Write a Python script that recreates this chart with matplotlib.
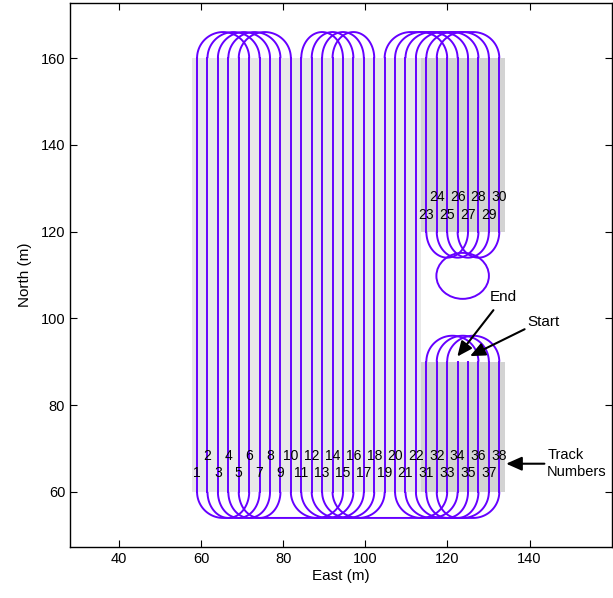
import numpy as np
import matplotlib
matplotlib.use('Agg')
import matplotlib.pyplot as plt
from matplotlib.patches import Rectangle, Ellipse

plt.rcParams['font.family'] = ['Liberation Sans', 'DejaVu Sans']

# ---------------- data ----------------
x_origin = 57.7          # west edge of the field (m)
swath = 2.54             # track spacing (m)
main_tracks = list(range(1, 23))
upper_tracks = list(range(23, 31))
lower_tracks = list(range(31, 39))
main_span = (60, 160)
upper_span = (120, 160)
lower_span = (60, 90)

# headland turns: (track, track)
turns_y160 = [(1, 6), (2, 7), (3, 8), (4, 9), (5, 10),
              (15, 11), (16, 12), (17, 13), (18, 14),
              (19, 29), (25, 20), (22, 27), (23, 28), (24, 30), (26, 21)]
turns_y60 = [(6, 2), (7, 3), (8, 4), (9, 5), (10, 15),
             (11, 16), (12, 17), (13, 18), (14, 19),
             (35, 31), (36, 32), (20, 33), (38, 22), (21, 34), (37, 1)]
turns_y120 = [(29, 25), (27, 23), (28, 24), (30, 26)]
turns_y90 = [(31, 36), (32, 37), (33, 38)]

loop_center = (123.7, 109.8)
loop_size = (12.8, 10.6)

tick_x = [40, 60, 80, 100, 120, 140]
tick_y = [60, 80, 100, 120, 140, 160]

line_color = '#6600ff'
LW = 1.4


def pos(k):
    # column index of a track across the field
    return k if k <= 30 else k - 8


def track_x(k):
    return x_origin + swath * (pos(k) - 0.5)


def turn(ax, ka, kb, y0, up, depth=6.0, rmax=6.35):
    xa, xb = track_x(ka), track_x(kb)
    s = np.sign(xb - xa)
    rx = min(abs(xb - xa) / 2, rmax)
    d = 1 if up else -1
    a = np.linspace(0, np.pi / 2, 40)
    x1 = xa + s * rx * (1 - np.cos(a))
    y1 = y0 + d * depth * np.sin(a)
    a2 = a[::-1]
    x2 = xb - s * rx * (1 - np.cos(a2))
    y2 = y0 + d * depth * np.sin(a2)
    ax.plot(np.r_[x1, x2], np.r_[y1, y2], color=line_color, lw=LW, solid_capstyle='butt')


fig = plt.figure(figsize=(6.13, 5.98), dpi=100)
ax = fig.add_axes([70 / 613, 51 / 598, 542 / 613, 544 / 598])

# shaded areas
ax.add_patch(Rectangle((x_origin, main_span[0]), swath * 22, main_span[1] - main_span[0],
                       facecolor='#e8e8e8', edgecolor='none', zorder=0))
ax.add_patch(Rectangle((x_origin + swath * 22, upper_span[0]), swath * 8,
                       upper_span[1] - upper_span[0], facecolor='#d3d3d3', edgecolor='none', zorder=0))
ax.add_patch(Rectangle((x_origin + swath * 22, lower_span[0]), swath * 8,
                       lower_span[1] - lower_span[0], facecolor='#d3d3d3', edgecolor='none', zorder=0))

# straight tracks
for k in main_tracks:
    ax.plot([track_x(k)] * 2, main_span, color=line_color, lw=LW)
for k in upper_tracks:
    ax.plot([track_x(k)] * 2, upper_span, color=line_color, lw=LW)
for k in lower_tracks:
    ax.plot([track_x(k)] * 2, lower_span, color=line_color, lw=LW)

for a, b in turns_y160:
    turn(ax, a, b, 160, True)
for a, b in turns_y60:
    turn(ax, a, b, 60, False)
for a, b in turns_y120:
    turn(ax, a, b, 120, False)
for a, b in turns_y90:
    turn(ax, a, b, 90, True)

ax.add_patch(Ellipse(loop_center, loop_size[0], loop_size[1], facecolor='none',
                     edgecolor=line_color, lw=LW))

# track numbers
for k in main_tracks + lower_tracks:
    y = 68.3 if k % 2 == 0 else 64.4
    ax.text(track_x(k), y, str(k), ha='center', va='center', fontsize=10)
for k in upper_tracks:
    y = 128.0 if k % 2 == 0 else 123.8
    ax.text(track_x(k), y, str(k), ha='center', va='center', fontsize=10)

arrow = dict(arrowstyle='-|>,head_length=0.9,head_width=0.4', color='black', lw=1.5,
             shrinkA=0, shrinkB=0)
ax.annotate('Track\nNumbers', xy=(134.3, 66.5), xytext=(144.3, 66.5), ha='left', va='center',
            fontsize=10.5, arrowprops=arrow, linespacing=1.25)
ax.annotate('', xy=(122.4, 91.2), xytext=(131.2, 101.9), arrowprops=arrow)
ax.annotate('', xy=(125.5, 91.3), xytext=(138.8, 97.5), arrowprops=arrow)
ax.text(130.4, 104.9, 'End', ha='left', va='center', fontsize=11)
ax.text(139.4, 99.2, 'Start', ha='left', va='center', fontsize=11)

ax.set_xlim(28, 160.1)
ax.set_ylim(47.3, 172.7)
ax.set_xticks(tick_x)
ax.set_yticks(tick_y)
ax.tick_params(direction='in', top=True, right=True, length=5, labelsize=10.5, width=0.8)
for sp in ax.spines.values():
    sp.set_linewidth(1.0)
ax.set_xlabel('East (m)', fontsize=11, labelpad=2)
ax.set_ylabel('North (m)', fontsize=11, labelpad=6)

fig.savefig('out.png', dpi=100)
